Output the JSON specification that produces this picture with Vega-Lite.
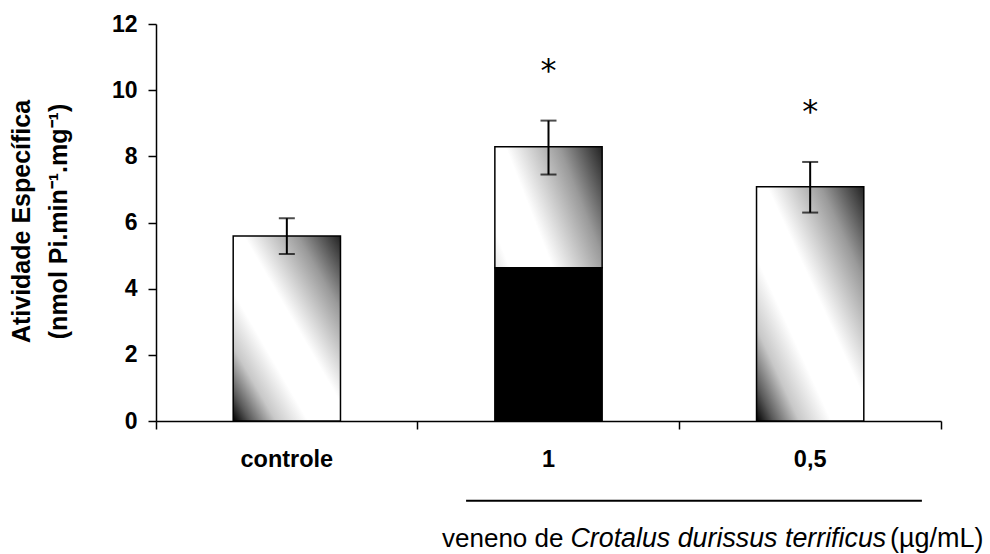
{
  "$schema": "https://vega.github.io/schema/vega-lite/v6.json",
  "autosize": "none",
  "width": 785,
  "height": 397,
  "padding": {"left": 156, "top": 24, "right": 49, "bottom": 133},
  "background": "white",
  "config": {
    "view": {"stroke": null},
    "font": "Liberation Sans",
    "text": {"font": "Liberation Sans", "color": "#000"}
  },
  "datasets": {
    "atividade": [
      {"grupo": "controle", "media": 5.59, "parcial": 0, "min": 5.05, "max": 6.13, "sig": false},
      {"grupo": "1", "media": 8.29, "parcial": 4.63, "min": 7.45, "max": 9.08, "sig": true},
      {"grupo": "0,5", "media": 7.08, "parcial": 0, "min": 6.3, "max": 7.83, "sig": true}
    ]
  },
  "layer": [
    {
      "data": {"name": "atividade"},
      "encoding": {
        "x": {
          "field": "grupo",
          "type": "nominal",
          "sort": ["controle", "1", "0,5"],
          "scale": {"paddingInner": 0, "paddingOuter": 0},
          "axis": {
            "title": null,
            "bandPosition": 1,
            "tickExtra": true,
            "tickSize": 8,
            "tickColor": "#000",
            "tickWidth": 1.5,
            "domainColor": "#000",
            "domainWidth": 1.5,
            "labelFont": "Liberation Sans",
            "labelFontWeight": "bold",
            "labelFontSize": 23.5,
            "labelColor": "#000",
            "labelAngle": 0,
            "labelBaseline": "alphabetic",
            "labelPadding": 37,
            "grid": false
          }
        }
      },
      "layer": [
        {
          "transform": [{"filter": "datum.parcial == 0"}],
          "mark": {
            "type": "bar",
            "width": {"band": 0.41},
            "fill": {
              "gradient": "linear",
              "x1": 0, "y1": 1, "x2": 1, "y2": 0,
              "stops": [
                {"offset": 0, "color": "#000000"},
                {"offset": 0.08, "color": "#5a5a5a"},
                {"offset": 0.2, "color": "#c8c8c8"},
                {"offset": 0.35, "color": "#ffffff"},
                {"offset": 0.55, "color": "#ffffff"},
                {"offset": 0.8, "color": "#9a9a9a"},
                {"offset": 1, "color": "#222222"}
              ]
            },
            "stroke": "#000",
            "strokeWidth": 1.5
          },
          "encoding": {
            "y": {
              "field": "media",
              "type": "quantitative",
              "scale": {"domain": [0, 12], "nice": false, "zero": true},
              "axis": {
                "title": ["Atividade Específica", "(nmol Pi.min⁻¹.mg⁻¹)"],
                "values": [0, 2, 4, 6, 8, 10, 12],
                "tickSize": 8,
                "tickColor": "#000",
                "tickWidth": 1.5,
                "domainColor": "#000",
                "domainWidth": 1.5,
                "labelFont": "Liberation Sans",
                "labelFontWeight": "bold",
                "labelFontSize": 23,
                "labelColor": "#000",
                "labelPadding": 11,
                "titleFont": "Liberation Sans",
                "titleFontWeight": "bold",
                "titleFontSize": 25,
                "titleColor": "#000",
                "titleLineHeight": 37,
                "titleAngle": -90,
                "titleBaseline": "alphabetic",
                "titleAlign": "center",
                "titleX": -127,
                "titleY": 197,
                "grid": false
              }
            }
          }
        },
        {
          "transform": [{"filter": "datum.parcial > 0"}],
          "mark": {
            "type": "bar",
            "width": {"band": 0.41},
            "fill": {
              "gradient": "linear",
              "x1": -0.8378, "y1": 0.3687, "x2": 0.8378, "y2": -0.3687,
              "stops": [
                {"offset": 0, "color": "#000000"},
                {"offset": 0.08, "color": "#5a5a5a"},
                {"offset": 0.2, "color": "#c8c8c8"},
                {"offset": 0.35, "color": "#ffffff"},
                {"offset": 0.55, "color": "#ffffff"},
                {"offset": 0.8, "color": "#9a9a9a"},
                {"offset": 1, "color": "#222222"}
              ]
            },
            "stroke": "#000",
            "strokeWidth": 1.5
          },
          "encoding": {
            "y": {"field": "media", "type": "quantitative"},
            "y2": {"field": "parcial"}
          }
        },
        {
          "transform": [{"filter": "datum.parcial > 0"}],
          "mark": {"type": "bar", "width": {"band": 0.41}, "fill": "#000", "stroke": "#000", "strokeWidth": 1.5},
          "encoding": {
            "y": {"field": "parcial", "type": "quantitative", "stack": null}
          }
        },
        {
          "mark": {"type": "rule", "color": "#000", "strokeWidth": 2},
          "encoding": {
            "y": {"field": "min", "type": "quantitative"},
            "y2": {"field": "max"}
          }
        },
        {
          "mark": {"type": "tick", "color": "#000", "size": 16, "thickness": 2, "orient": "horizontal"},
          "encoding": {
            "y": {"field": "min", "type": "quantitative"}
          }
        },
        {
          "mark": {"type": "tick", "color": "#000", "size": 16, "thickness": 2, "orient": "horizontal"},
          "encoding": {
            "y": {"field": "max", "type": "quantitative"}
          }
        },
        {
          "transform": [{"filter": "datum.sig"}],
          "mark": {"type": "text", "text": "*", "font": "DejaVu Sans", "fontWeight": "normal", "fontSize": 32, "baseline": "alphabetic", "align": "center", "dy": -39.5, "color": "#000"},
          "encoding": {
            "y": {"field": "max", "type": "quantitative"}
          }
        }
      ]
    },
    {
      "data": {"values": [{}]},
      "layer": [
        {
          "mark": {"type": "rule", "color": "#000", "strokeWidth": 2},
          "encoding": {
            "x": {"datum": 1.185, "type": "quantitative", "scale": {"domain": [0, 3], "nice": false, "zero": false}, "axis": null},
            "x2": {"datum": 2.927},
            "y": {"datum": -2.41, "type": "quantitative", "scale": {"domain": [0, 12], "nice": false}}
          }
        },
        {
          "mark": {"type": "text", "text": "veneno de", "font": "Liberation Sans", "fontSize": 26, "align": "left", "baseline": "alphabetic", "color": "#000"},
          "encoding": {
            "x": {"datum": 1.093, "type": "quantitative", "axis": null},
            "y": {"datum": -3.8, "type": "quantitative"}
          }
        },
        {
          "mark": {"type": "text", "text": "Crotalus durissus terrificus", "font": "Liberation Sans", "fontStyle": "italic", "fontSize": 26.8, "align": "left", "baseline": "alphabetic", "color": "#000"},
          "encoding": {
            "x": {"datum": 1.584, "type": "quantitative", "axis": null},
            "y": {"datum": -3.8, "type": "quantitative"}
          }
        },
        {
          "mark": {"type": "text", "text": "(µg/mL)", "font": "Liberation Sans", "fontSize": 27, "align": "left", "baseline": "alphabetic", "color": "#000"},
          "encoding": {
            "x": {"datum": 2.805, "type": "quantitative", "axis": null},
            "y": {"datum": -3.8, "type": "quantitative"}
          }
        }
      ]
    }
  ],
  "resolve": {"scale": {"x": "independent"}}
}
